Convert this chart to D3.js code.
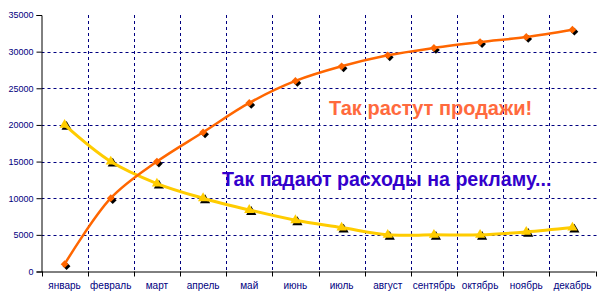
<!DOCTYPE html>
<html><head><meta charset="utf-8">
<script src="https://cdn.jsdelivr.net/npm/d3@7"></script>
<style>body{margin:0;background:#fff}svg{display:block}text{font-family:Arial,"Liberation Sans",sans-serif}</style>
</head><body>
<svg id="c" width="600" height="300"></svg>
<script>
const months = ["январь","февраль","март","апрель","май","июнь","июль","август","сентябрь","октябрь","ноябрь","декабрь"];
const sales = [1000,10000,15000,19000,23000,26000,28000,29500,30500,31300,32000,33000];
const adCosts = [20000,15000,12000,10000,8400,7000,6000,5000,5000,5000,5400,6000];
const yTicks = [0,5000,10000,15000,20000,25000,30000,35000];
const salesLabel = "Так растут продажи!";
const costsLabel = "Так падают расходы на рекламу...";

const svg = d3.select("#c");
const L = 41.5, R = 595.5, T = 15, B = 271.5;
const x = d3.scaleBand().domain(months).range([L, R]);
const y = d3.scaleLinear().domain([0, 35000]).range([B, T]);
const navy = "#000080";

svg.append("g").selectAll("line").data(yTicks.filter(v => v > 0 && v < 35000)).join("line")
  .attr("x1", L).attr("x2", 598).attr("y1", d => Math.round(y(d)) + 0.5).attr("y2", d => Math.round(y(d)) + 0.5)
  .attr("stroke", navy).attr("stroke-dasharray", "3,3");
svg.append("g").selectAll("line").data(months.slice(1)).join("line")
  .attr("x1", d => Math.round(x(d)) + 0.5).attr("x2", d => Math.round(x(d)) + 0.5)
  .attr("y1", T).attr("y2", B)
  .attr("stroke", navy).attr("stroke-dasharray", "3,3");

const yAxis = svg.append("g").attr("transform", `translate(${L},0)`)
  .call(d3.axisLeft(y).tickValues(yTicks).tickSize(5).tickPadding(3).tickFormat(d3.format("d")));
yAxis.select(".domain").attr("stroke", "#000");
yAxis.selectAll(".tick line").attr("stroke", "#000");
yAxis.selectAll("text").attr("fill", navy).attr("font-size", 9).attr("font-family", "Arial, 'Liberation Sans', sans-serif");

const xAxis = svg.append("g").attr("transform", `translate(0,${B})`)
  .call(d3.axisBottom(x).tickSize(0).tickPadding(10));
xAxis.select(".domain").attr("stroke", "#000").attr("d", `M${L},0.5H${R}`);
xAxis.selectAll("text").attr("fill", navy).attr("font-size", 10).attr("font-family", "Arial, 'Liberation Sans', sans-serif");
svg.append("g").selectAll("line").data(months.concat(["end"])).join("line")
  .attr("x1", (d, i) => Math.round(L + i * x.step()) + 0.5)
  .attr("x2", (d, i) => Math.round(L + i * x.step()) + 0.5)
  .attr("y1", B).attr("y2", B + 5).attr("stroke", "#000");

const cx = d => x(d) + x.bandwidth() / 2;
const line = d3.line().curve(d3.curveCatmullRom.alpha(0.5));

function series(vals, color, width, shape, size, rot) {
  const pts = vals.map((v, i) => [cx(months[i]), y(v)]);
  const sym = d3.symbol().type(shape).size(size);
  svg.append("g").selectAll("path").data(pts).join("path")
    .attr("d", sym).attr("transform", d => `translate(${d[0] + 2},${d[1] + 2}) rotate(${rot})`).attr("fill", "#000");
  svg.append("path").attr("d", line(pts)).attr("fill", "none").attr("stroke", color).attr("stroke-width", width);
  svg.append("g").selectAll("path").data(pts).join("path")
    .attr("d", sym).attr("transform", d => `translate(${d[0]},${d[1]}) rotate(${rot})`).attr("fill", color);
}
series(adCosts, "#ffcc00", 3, d3.symbolTriangle, 45, 0);
series(sales, "#ff6600", 2.5, d3.symbolSquare, 30, 45);

svg.append("text").attr("x", 329).attr("y", 115).attr("font-size", 20).attr("font-weight", "bold")
  .attr("fill", "#ff6a3d").text(salesLabel);
svg.append("text").attr("x", 222).attr("y", 186).attr("font-size", 19.6).attr("font-weight", "bold")
  .attr("fill", "#3300cc").text(costsLabel);
</script>
</body></html>
